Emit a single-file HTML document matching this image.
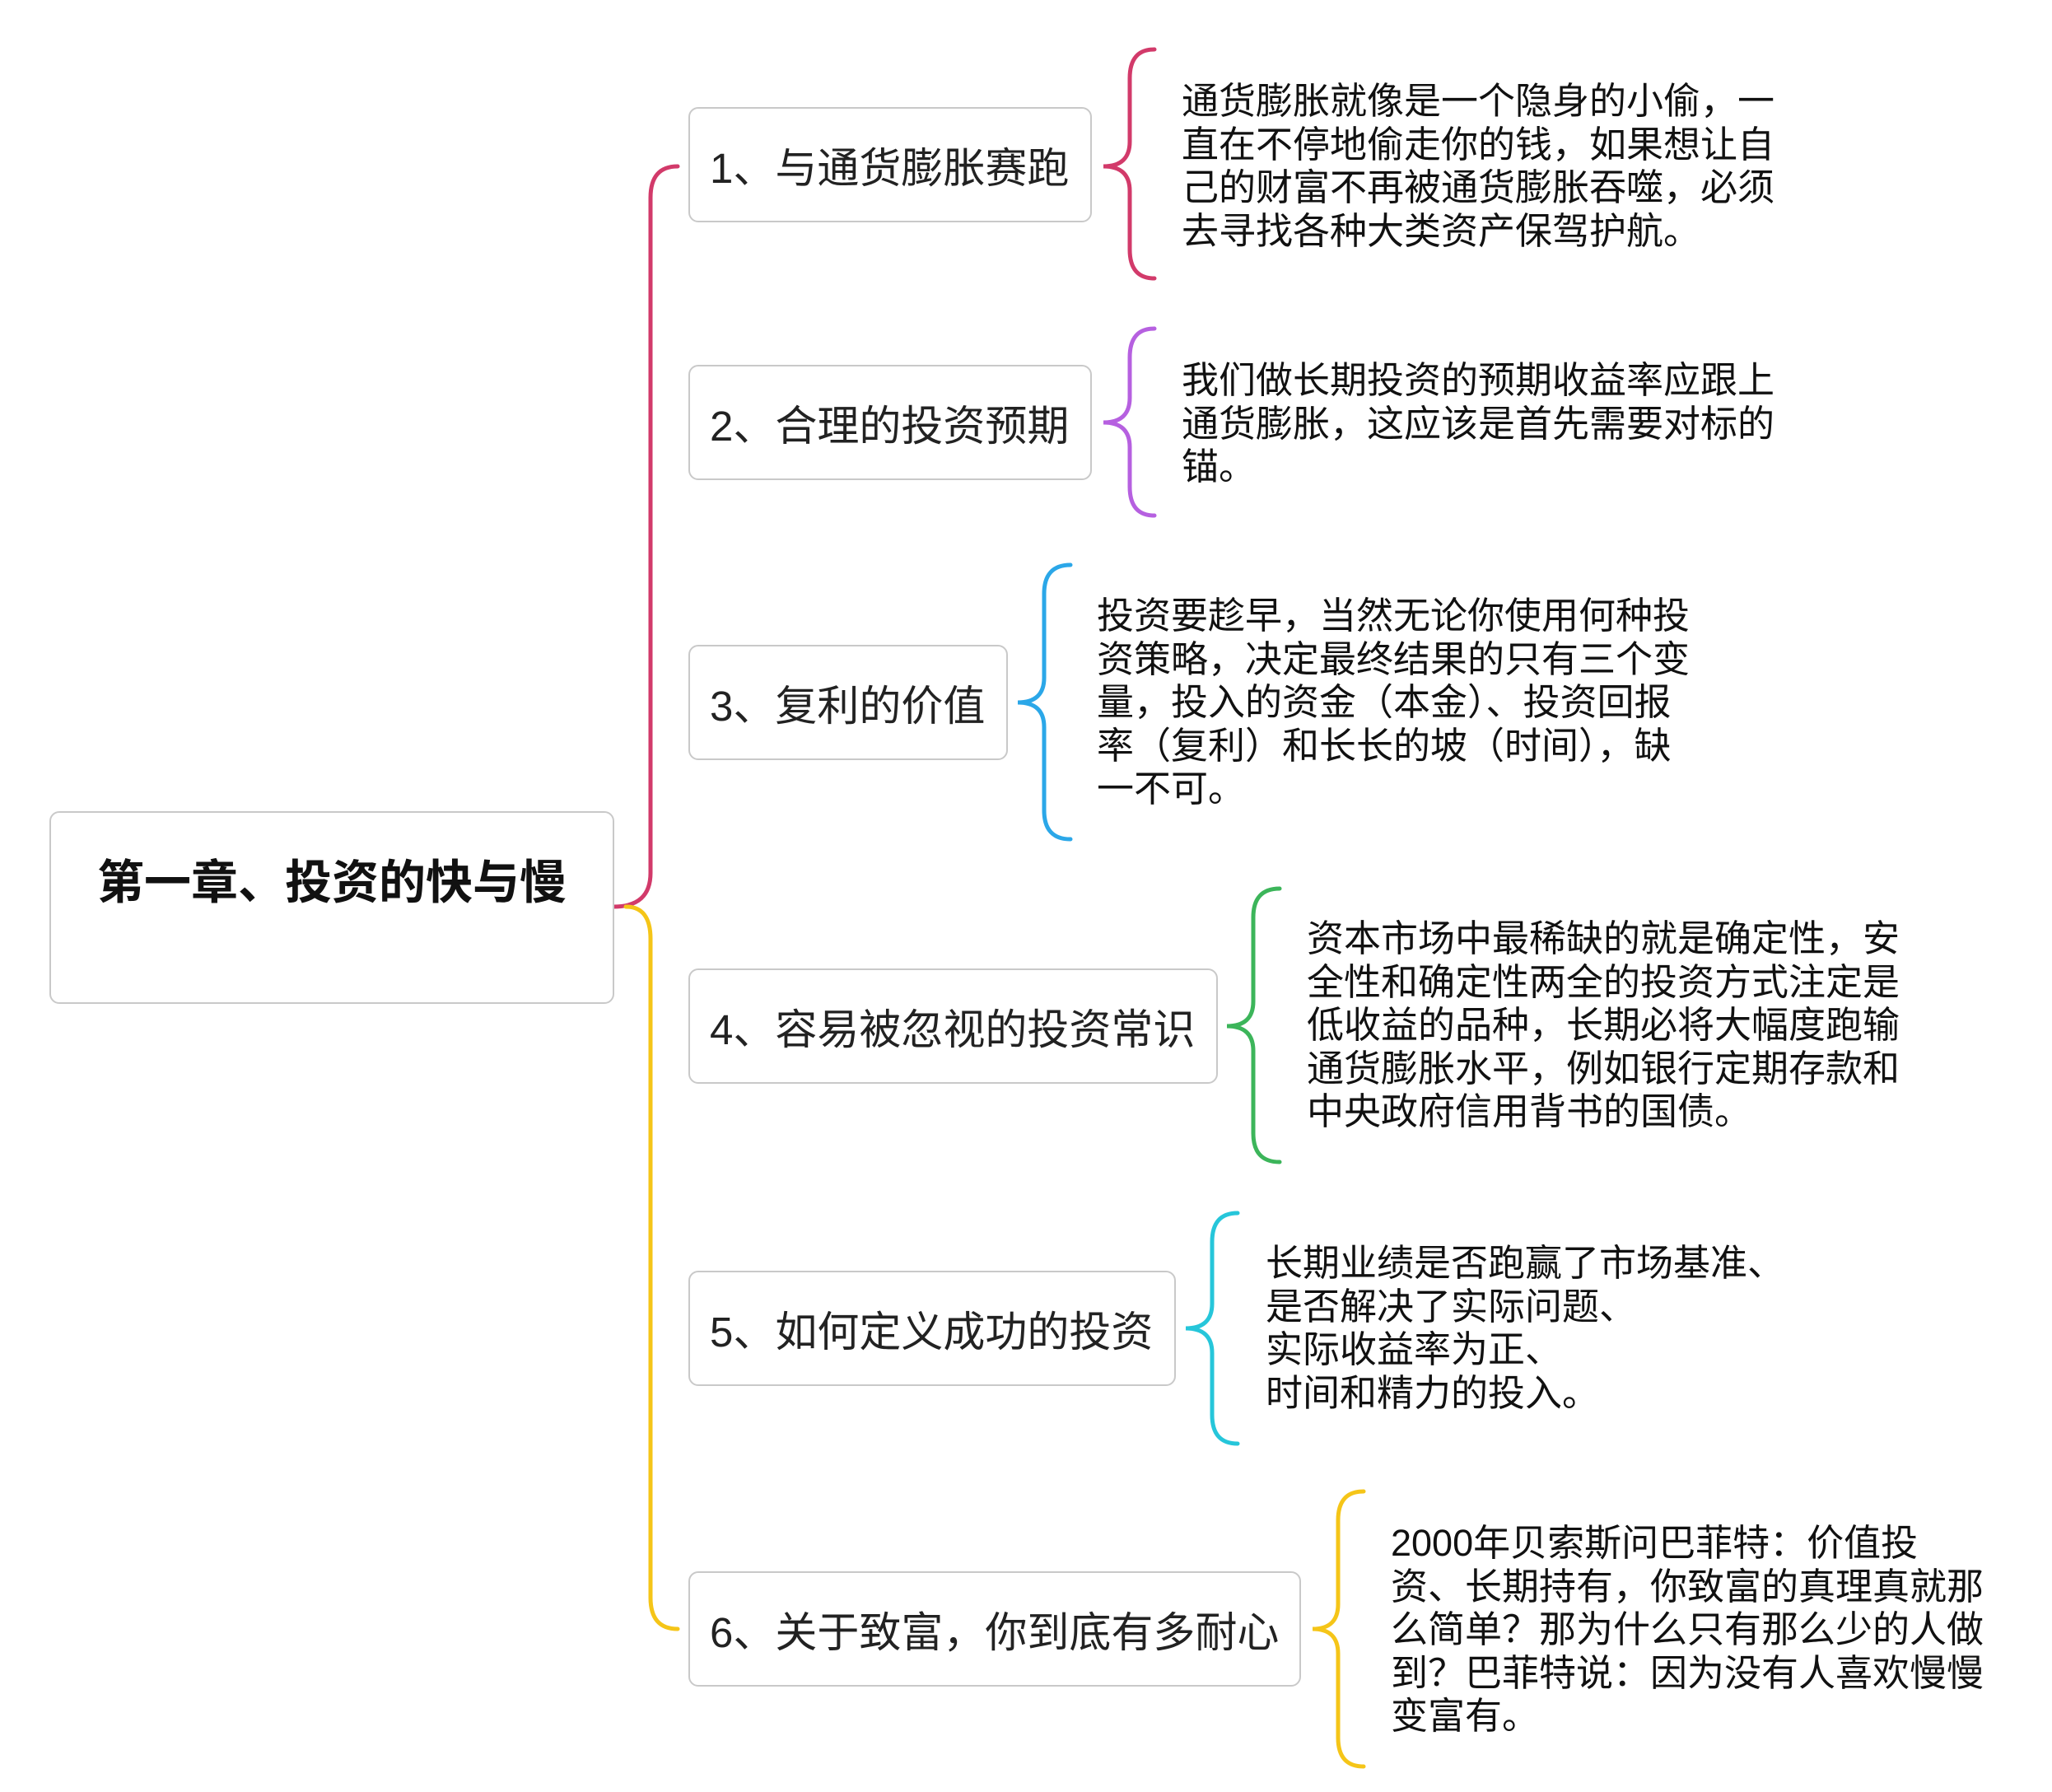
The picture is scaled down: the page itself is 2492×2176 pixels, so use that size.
<!DOCTYPE html>
<html><head><meta charset="utf-8"><style>
body{margin:0;width:2492px;height:2176px;background:#fff;position:relative;overflow:hidden;font-family:"Liberation Sans","Noto Sans CJK SC",sans-serif}
.n{position:absolute;box-sizing:border-box;border:2px solid #c9c9c9;border-radius:12px;background:#fff;font-size:51px;color:#222;padding-left:24px;display:flex;align-items:center;white-space:nowrap}
.t{position:absolute;font-size:45px;line-height:52.5px;color:#111;white-space:nowrap}
svg{position:absolute;left:0;top:0}
</style></head><body>
<svg width="2492" height="2176" fill="none" stroke-width="5" stroke-linecap="round">
<path d="M745 1101 Q790 1101 790 1060 L790 240 Q790 202 823 202" stroke="#d23a6a"/>
<path d="M760 1101 Q790 1101 790 1140 L790 1940 Q790 1978 823 1978" stroke="#f5c518"/>
<path d="M1402 60 Q1372 60 1372 95 L1372 172 Q1372 202 1340 202 Q1372 202 1372 232 L1372 303 Q1372 338 1402 338" stroke="#d23a6a"/>
<path d="M1402 399 Q1372 399 1372 434 L1372 483 Q1372 513 1340 513 Q1372 513 1372 543 L1372 591 Q1372 626 1402 626" stroke="#b660e0"/>
<path d="M1300 686 Q1268 686 1268 721 L1268 823 Q1268 853 1236 853 Q1268 853 1268 883 L1268 984 Q1268 1019 1300 1019" stroke="#2ba7e8"/>
<path d="M1554 1079 Q1522 1079 1522 1114 L1522 1216 Q1522 1246 1490 1246 Q1522 1246 1522 1276 L1522 1376 Q1522 1411 1554 1411" stroke="#3cb55a"/>
<path d="M1503 1473 Q1472 1473 1472 1508 L1472 1583 Q1472 1613 1440 1613 Q1472 1613 1472 1643 L1472 1718 Q1472 1753 1503 1753" stroke="#26c6da"/>
<path d="M1656 1811 Q1625 1811 1625 1846 L1625 1948 Q1625 1978 1594 1978 Q1625 1978 1625 2008 L1625 2110 Q1625 2145 1656 2145" stroke="#f5c518"/>
</svg>
<div class="n" style="left:60px;top:985px;width:686px;height:234px;padding:0;display:block"><div style="position:absolute;left:0;right:0;top:39px;text-align:center;font-size:57px;font-weight:bold;color:#111">第一章、投资的快与慢</div></div>
<div class="n" style="left:836px;top:130px;width:490px;height:140px">1、与通货膨胀赛跑</div>
<div class="n" style="left:836px;top:443px;width:490px;height:140px">2、合理的投资预期</div>
<div class="n" style="left:836px;top:783px;width:388px;height:140px">3、复利的价值</div>
<div class="n" style="left:836px;top:1176px;width:643px;height:140px">4、容易被忽视的投资常识</div>
<div class="n" style="left:836px;top:1543px;width:592px;height:140px">5、如何定义成功的投资</div>
<div class="n" style="left:836px;top:1908px;width:744px;height:140px">6、关于致富，你到底有多耐心</div>
<div class="t" style="left:1435px;top:97px">通货膨胀就像是一个隐身的小偷，一<br>直在不停地偷走你的钱，如果想让自<br>己的财富不再被通货膨胀吞噬，必须<br>去寻找各种大类资产保驾护航。</div>
<div class="t" style="left:1435px;top:436px">我们做长期投资的预期收益率应跟上<br>通货膨胀，这应该是首先需要对标的<br>锚。</div>
<div class="t" style="left:1332px;top:722px">投资要趁早，当然无论你使用何种投<br>资策略，决定最终结果的只有三个变<br>量，投入的资金（本金）、投资回报<br>率（复利）和长长的坡（时间），缺<br>一不可。</div>
<div class="t" style="left:1587px;top:1114px">资本市场中最稀缺的就是确定性，安<br>全性和确定性两全的投资方式注定是<br>低收益的品种，长期必将大幅度跑输<br>通货膨胀水平，例如银行定期存款和<br>中央政府信用背书的国债。</div>
<div class="t" style="left:1537px;top:1508px">长期业绩是否跑赢了市场基准、<br>是否解决了实际问题、<br>实际收益率为正、<br>时间和精力的投入。</div>
<div class="t" style="left:1689px;top:1848px">2000年贝索斯问巴菲特：价值投<br>资、长期持有，你致富的真理真就那<br>么简单？那为什么只有那么少的人做<br>到？巴菲特说：因为没有人喜欢慢慢<br>变富有。</div>
</body></html>
